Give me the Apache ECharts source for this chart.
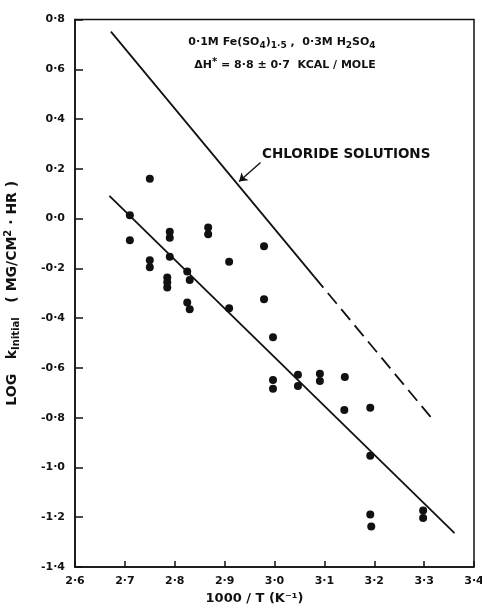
<!DOCTYPE html>
<html>
<head>
<meta charset="utf-8">
<script src="https://cdn.jsdelivr.net/npm/echarts@6/dist/echarts.min.js"></script>
<style>
  html, body { margin: 0; padding: 0; background: #fff; }
  #chart { width: 482px; height: 607px; }
</style>
</head>
<body>
<div id="chart"></div>
<script>
// Measured rate constants: 1000/T (K^-1) vs log k_initial
const invTemp = [2.71, 2.71, 2.75, 2.75, 2.75, 2.79, 2.79, 2.79, 2.785, 2.785, 2.785,
  2.825, 2.83, 2.825, 2.83, 2.867, 2.867, 2.909, 2.909, 2.979, 2.979, 2.997, 2.997, 2.997,
  3.047, 3.047, 3.091, 3.091, 3.141, 3.14, 3.192, 3.192, 3.192, 3.194, 3.298, 3.298];
const logK = [0.013, -0.087, 0.16, -0.167, -0.196, -0.053, -0.077, -0.153, -0.237, -0.256, -0.277,
  -0.213, -0.247, -0.337, -0.364, -0.036, -0.063, -0.173, -0.36, -0.111, -0.324, -0.477, -0.649, -0.684,
  -0.627, -0.673, -0.623, -0.653, -0.637, -0.769, -0.76, -0.953, -1.189, -1.237, -1.173, -1.203];

// Least-squares fit through the sulphate data
const fitX = [2.669, 3.361];
const fitY = [0.091, -1.264];

// Chloride solutions line: measured part (solid) and extrapolated part (dashed)
const chlSolidX = [2.672, 3.08];
const chlSolidY = [0.751, -0.234];
const chlDashX = [3.08, 3.313];
const chlDashY = [-0.234, -0.797];

// Annotation anchor (text start) and arrow target on the chloride line
const noteFrom = [2.972, 0.225];
const noteTo = [2.929, 0.149];
const noteText = 'CHLORIDE SOLUTIONS';

// Axis ranges
const xMin = 2.6, xMax = 3.4, xStep = 0.1;
const yMin = -1.4, yMax = 0.8, yStep = 0.2;

const FONT = 'DejaVu Sans';
const INK = '#111';

const pairs = (xs, ys) => xs.map((x, i) => [x, ys[i]]);
const dotFmt = v => v.toFixed(1).replace('.', '·');

const chart = echarts.init(document.getElementById('chart'));
chart.setOption({
  backgroundColor: '#fff',
  animation: false,
  grid: {
    left: 75, right: 8, top: 19.5, bottom: 40,
    containLabel: false, outerBoundsMode: 'none',
    show: true, borderColor: INK, borderWidth: 1.5, backgroundColor: 'transparent'
  },
  xAxis: {
    type: 'value', min: xMin, max: xMax, interval: xStep,
    splitLine: { show: false },
    axisLine: { onZero: false, lineStyle: { color: INK, width: 1.5 } },
    axisTick: { inside: true, length: 6, lineStyle: { color: INK, width: 1.5 } },
    axisLabel: { color: INK, fontFamily: FONT, fontWeight: 'bold', fontSize: 11, margin: 9, formatter: dotFmt },
    name: '1000 / T (K⁻¹)',
    nameLocation: 'middle', nameGap: 25,
    nameTextStyle: { color: INK, fontFamily: FONT, fontWeight: 'bold', fontSize: 13, padding: [0, 40, 0, 0] }
  },
  yAxis: {
    type: 'value', min: yMin, max: yMax, interval: yStep,
    splitLine: { show: false },
    axisLine: { onZero: false, lineStyle: { color: INK, width: 1.5 } },
    axisTick: { inside: true, length: 8, lineStyle: { color: INK, width: 1.5 } },
    axisLabel: { color: INK, fontFamily: FONT, fontWeight: 'bold', fontSize: 11, margin: 10, formatter: dotFmt },
    name: 'LOG   k{sub|Initial}   ( MG/CM{sup|2} · HR )',
    nameLocation: 'middle', nameGap: 54,
    nameTextStyle: {
      color: INK, fontFamily: FONT, fontWeight: 'bold', fontSize: 14,
      rich: {
        sub: { fontFamily: FONT, fontWeight: 'bold', fontSize: 10, color: INK, padding: [8, 0, 0, 0] },
        sup: { fontFamily: FONT, fontWeight: 'bold', fontSize: 10, color: INK, padding: [0, 0, 8, 0] }
      }
    }
  },
  graphic: [
    {
      type: 'text', x: 282, y: 42,
      style: {
        text: '0·1M Fe(SO{sub|4}){sub|1·5} ,  0·3M H{sub|2}SO{sub|4}',
        align: 'center', verticalAlign: 'middle',
        fill: INK, font: 'bold 11px "DejaVu Sans"',
        rich: {
          sub: { fontFamily: FONT, fontWeight: 'bold', fontSize: 9, fill: INK, padding: [7, 0, 0, 0] }
        }
      }
    },
    {
      type: 'text', x: 285, y: 65,
      style: {
        text: 'ΔH{sup|*} = 8·8 ± 0·7  KCAL / MOLE',
        align: 'center', verticalAlign: 'middle',
        fill: INK, font: 'bold 11px "DejaVu Sans"',
        rich: {
          sup: { fontFamily: FONT, fontWeight: 'bold', fontSize: 10, fill: INK, padding: [0, 0, 6, 0] }
        }
      }
    }
  ],
  series: [
    {
      name: 'data', type: 'scatter', data: pairs(invTemp, logK),
      symbol: 'circle', symbolSize: 8, itemStyle: { color: INK, opacity: 1 }
    },
    {
      name: 'fit', type: 'line', data: pairs(fitX, fitY),
      symbol: 'none', lineStyle: { color: INK, width: 1.8 }
    },
    {
      name: 'chloride', type: 'line', data: pairs(chlSolidX, chlSolidY),
      symbol: 'none', lineStyle: { color: INK, width: 1.8 },
      markLine: {
        silent: true, symbol: ['none', 'arrow'], symbolSize: 8,
        lineStyle: { color: INK, width: 1.4, type: 'solid' },
        label: { show: false },
        data: [[{ coord: noteFrom }, { coord: noteTo }]]
      },
      markPoint: {
        silent: true, symbol: 'circle', symbolSize: 1,
        itemStyle: { color: 'transparent' },
        data: [{ coord: noteFrom }],
        label: {
          show: true, position: 'right', distance: 1, formatter: noteText,
          color: INK, fontFamily: FONT, fontWeight: 'bold', fontSize: 13.5, offset: [0, -8]
        }
      }
    },
    {
      name: 'chlorideExtrap', type: 'line', data: pairs(chlDashX, chlDashY),
      symbol: 'none', lineStyle: { color: INK, width: 1.8, type: [14, 7] }
    }
  ]
});
</script>
</body>
</html>
